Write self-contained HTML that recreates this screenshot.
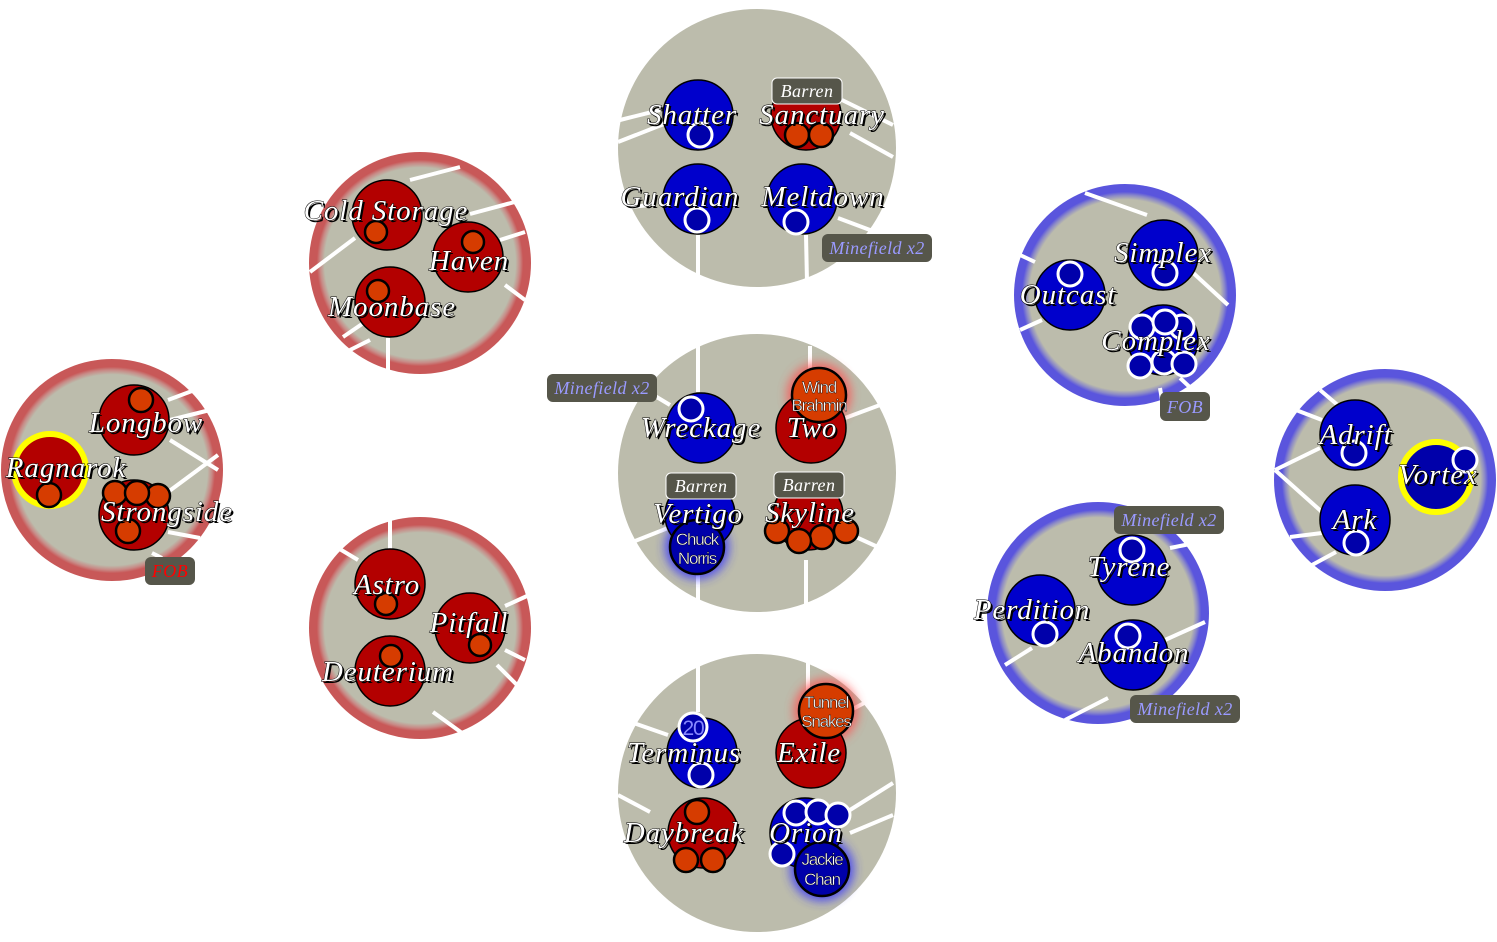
<!DOCTYPE html>
<html><head><meta charset="utf-8"><style>
html,body{margin:0;padding:0;background:#fff;width:1497px;height:942px;overflow:hidden}
svg{display:block}
.lbl{font-family:"Liberation Serif",serif;font-style:italic;font-size:29px;letter-spacing:0.9px;text-anchor:middle;fill:#fff;stroke:#000;stroke-width:1;paint-order:stroke}
.sh{font-family:"Liberation Serif",serif;font-style:italic;font-size:29px;letter-spacing:0.9px;text-anchor:middle;fill:#000}
.tag{font-family:"Liberation Serif",serif;font-style:italic;font-size:18px;letter-spacing:0.4px;text-anchor:middle}
.mn{font-family:"Liberation Sans",sans-serif;font-size:17px;text-anchor:middle;fill:#fff;stroke:#000;stroke-width:0.4;letter-spacing:-1.2px}
.ln{stroke:#fff;stroke-width:4;stroke-linecap:butt}
.rp{fill:#b30000;stroke:#000;stroke-width:1.5}
.bp{fill:#0000cc;stroke:#000;stroke-width:1.5}
.rm{fill:#d63c00;stroke:#000;stroke-width:2.5}
.bm{fill:#0000aa;stroke:#fff;stroke-width:3}
</style></head><body>
<svg width="1497" height="942" viewBox="0 0 1497 942" xmlns="http://www.w3.org/2000/svg">
<defs>
<radialGradient id="rg" cx="50%" cy="50%" r="50%">
<stop offset="0.86" stop-color="#bcbcac"/><stop offset="0.9" stop-color="#c88a86"/><stop offset="0.93" stop-color="#c85858"/><stop offset="1" stop-color="#c85858"/></radialGradient>
<radialGradient id="bg" cx="50%" cy="50%" r="50%">
<stop offset="0.86" stop-color="#bcbcac"/><stop offset="0.9" stop-color="#8a88c8"/><stop offset="0.93" stop-color="#5a55dd"/><stop offset="1" stop-color="#5a55dd"/></radialGradient>
<filter id="gr" x="-50%" y="-50%" width="200%" height="200%"><feGaussianBlur stdDeviation="5"/></filter>
</defs>

<circle cx="757" cy="148" r="139" fill="#bcbcac"/>
<circle cx="757" cy="473" r="139" fill="#bcbcac"/>
<circle cx="757" cy="793" r="139" fill="#bcbcac"/>
<circle cx="420" cy="263" r="111" fill="url(#rg)"/>
<circle cx="420" cy="628" r="111" fill="url(#rg)"/>
<circle cx="112" cy="470" r="111" fill="url(#rg)"/>
<circle cx="1125" cy="295" r="111" fill="url(#bg)"/>
<circle cx="1098" cy="613" r="111" fill="url(#bg)"/>
<circle cx="1385" cy="480" r="111" fill="url(#bg)"/>

<g class="ln">
<line x1="618" y1="142" x2="664" y2="124"/><line x1="620" y1="120" x2="660" y2="110"/>
<line x1="842" y1="100" x2="893" y2="125"/><line x1="850" y1="133" x2="893" y2="157"/>
<line x1="698" y1="235" x2="698" y2="288"/><line x1="806" y1="235" x2="807" y2="282"/>
<line x1="620" y1="208" x2="650" y2="205"/><line x1="838" y1="218" x2="870" y2="230"/>
<line x1="698" y1="346" x2="698" y2="392"/><line x1="810" y1="346" x2="810" y2="392"/>
<line x1="845" y1="418" x2="880" y2="405"/><line x1="845" y1="532" x2="880" y2="548"/>
<line x1="635" y1="541" x2="668" y2="528"/><line x1="698" y1="560" x2="698" y2="603"/>
<line x1="806" y1="560" x2="806" y2="605"/><line x1="655" y1="396" x2="670" y2="405"/>
<line x1="698" y1="660" x2="698" y2="712"/><line x1="808" y1="660" x2="808" y2="700"/>
<line x1="625" y1="720" x2="668" y2="735"/><line x1="618" y1="795" x2="650" y2="812"/>
<line x1="850" y1="810" x2="893" y2="783"/><line x1="850" y1="833" x2="893" y2="815"/>
<line x1="845" y1="713" x2="870" y2="700"/>
<line x1="410" y1="180" x2="460" y2="167"/><line x1="470" y1="214" x2="522" y2="200"/>
<line x1="500" y1="240" x2="525" y2="232"/><line x1="505" y1="285" x2="525" y2="300"/>
<line x1="310" y1="272" x2="355" y2="238"/><line x1="343" y1="337" x2="362" y2="324"/>
<line x1="350" y1="350" x2="370" y2="340"/><line x1="388" y1="338" x2="388" y2="372"/>
<line x1="390" y1="520" x2="390" y2="550"/><line x1="338" y1="548" x2="358" y2="560"/>
<line x1="505" y1="606" x2="527" y2="596"/><line x1="505" y1="650" x2="525" y2="660"/>
<line x1="497" y1="665" x2="522" y2="690"/><line x1="433" y1="712" x2="462" y2="733"/>
<line x1="168" y1="400" x2="200" y2="388"/><line x1="170" y1="420" x2="218" y2="408"/>
<line x1="170" y1="440" x2="218" y2="470"/><line x1="168" y1="492" x2="218" y2="455"/>
<line x1="168" y1="532" x2="200" y2="538"/><line x1="152" y1="553" x2="162" y2="558"/>
<line x1="1085" y1="193" x2="1147" y2="215"/><line x1="1190" y1="270" x2="1228" y2="305"/>
<line x1="1020" y1="255" x2="1035" y2="262"/><line x1="1020" y1="330" x2="1042" y2="320"/>
<line x1="1180" y1="378" x2="1195" y2="392"/><line x1="1160" y1="388" x2="1162" y2="400"/>
<line x1="1170" y1="548" x2="1200" y2="542"/><line x1="1005" y1="665" x2="1032" y2="648"/>
<line x1="1065" y1="720" x2="1108" y2="698"/><line x1="1165" y1="640" x2="1205" y2="622"/>
<line x1="1320" y1="390" x2="1340" y2="407"/><line x1="1296" y1="410" x2="1322" y2="420"/>
<line x1="1275" y1="470" x2="1320" y2="448"/><line x1="1275" y1="470" x2="1322" y2="512"/>
<line x1="1290" y1="537" x2="1322" y2="533"/><line x1="1312" y1="565" x2="1336" y2="552"/>
</g>

<circle cx="819" cy="395" r="32" fill="#ff5050" filter="url(#gr)" opacity="0.8"/>
<circle cx="826" cy="711" r="32" fill="#ff5050" filter="url(#gr)" opacity="0.8"/>
<circle cx="697" cy="547" r="32" fill="#3030ff" filter="url(#gr)" opacity="0.8"/>
<circle cx="822" cy="869" r="32" fill="#3030ff" filter="url(#gr)" opacity="0.8"/>

<circle class="bp" cx="698" cy="115" r="35"/><circle class="bm" cx="700" cy="135" r="12"/>
<circle class="rp" cx="806" cy="115" r="35"/><circle class="rm" cx="797" cy="135" r="12"/><circle class="rm" cx="821" cy="135" r="12"/>
<circle class="bp" cx="698" cy="199" r="35"/><circle class="bm" cx="697" cy="220" r="12"/>
<circle class="bp" cx="802" cy="199" r="35"/><circle class="bm" cx="796" cy="222" r="12"/>

<circle class="bp" cx="701" cy="428" r="35"/><circle class="bm" cx="691" cy="409" r="12"/>
<circle class="rp" cx="811" cy="428" r="35"/><circle class="rm" cx="819" cy="395" r="27"/>
<circle class="bp" cx="700" cy="515" r="35"/><circle cx="697" cy="547" r="27" fill="#0000aa" stroke="#000" stroke-width="2.5"/>
<circle class="rp" cx="808" cy="515" r="35"/>
<circle class="rm" cx="777" cy="531" r="12"/><circle class="rm" cx="846" cy="531" r="12"/><circle class="rm" cx="822" cy="537" r="12"/><circle class="rm" cx="799" cy="541" r="12"/>

<circle class="bp" cx="702" cy="753" r="35"/><circle class="bm" cx="693" cy="727" r="14"/><circle class="bm" cx="701" cy="775" r="12"/>
<circle class="rp" cx="811" cy="753" r="35"/><circle class="rm" cx="826" cy="711" r="27"/>
<circle class="rp" cx="703" cy="833" r="35"/><circle class="rm" cx="697" cy="812" r="12"/><circle class="rm" cx="686" cy="860" r="12"/><circle class="rm" cx="713" cy="860" r="12"/>
<circle class="bp" cx="805" cy="833" r="35"/>
<circle class="bm" cx="796" cy="813" r="12"/><circle class="bm" cx="818" cy="812" r="12"/><circle class="bm" cx="838" cy="815" r="12"/><circle class="bm" cx="782" cy="854" r="12"/>
<circle cx="822" cy="869" r="27" fill="#0000aa" stroke="#000" stroke-width="2.5"/>

<circle class="rp" cx="387" cy="215" r="35"/><circle class="rm" cx="376" cy="232" r="11"/>
<circle class="rp" cx="468" cy="257" r="35"/><circle class="rm" cx="473" cy="242" r="11"/>
<circle class="rp" cx="390" cy="302" r="35"/><circle class="rm" cx="378" cy="291" r="11"/>
<circle class="rp" cx="390" cy="584" r="35"/><circle class="rm" cx="386" cy="604" r="11"/>
<circle class="rp" cx="470" cy="628" r="35"/><circle class="rm" cx="480" cy="645" r="11"/>
<circle class="rp" cx="390" cy="671" r="35"/><circle class="rm" cx="391" cy="656" r="11"/>
<circle class="rp" cx="134" cy="420" r="35"/><circle class="rm" cx="141" cy="400" r="12"/>
<circle cx="50" cy="470" r="36" fill="#b30000" stroke="#ffff00" stroke-width="6"/><circle class="rm" cx="49" cy="495" r="12"/>
<circle class="rp" cx="134" cy="515" r="35"/>
<circle class="rm" cx="115" cy="493" r="12"/><circle class="rm" cx="158" cy="496" r="12"/><circle class="rm" cx="137" cy="493" r="12"/><circle class="rm" cx="128" cy="531" r="12"/>

<circle class="bp" cx="1163" cy="255" r="35"/><circle class="bm" cx="1165" cy="273" r="12"/>
<circle class="bp" cx="1070" cy="295" r="35"/><circle class="bm" cx="1070" cy="274" r="12"/>
<circle class="bp" cx="1163" cy="340" r="35"/>
<circle class="bm" cx="1142" cy="327" r="12"/><circle class="bm" cx="1182" cy="327" r="12"/><circle class="bm" cx="1165" cy="322" r="12"/>
<circle class="bm" cx="1140" cy="366" r="12"/><circle class="bm" cx="1164" cy="362" r="12"/><circle class="bm" cx="1184" cy="364" r="12"/>
<circle class="bp" cx="1132" cy="570" r="35"/><circle class="bm" cx="1132" cy="550" r="12"/>
<circle class="bp" cx="1040" cy="610" r="35"/><circle class="bm" cx="1045" cy="634" r="12"/>
<circle class="bp" cx="1133" cy="655" r="35"/><circle class="bm" cx="1128" cy="636" r="12"/>
<circle class="bp" cx="1355" cy="435" r="35"/><circle class="bm" cx="1354" cy="453" r="12"/>
<circle class="bp" cx="1355" cy="520" r="35"/><circle class="bm" cx="1356" cy="543" r="12"/>
<circle cx="1436" cy="477" r="35" fill="#0000aa" stroke="#ffff00" stroke-width="6"/><circle class="bm" cx="1465" cy="460" r="12"/>

<text class="mn" x="819" y="393">Wind</text><text class="mn" x="819" y="411">Brahmin</text>
<text class="mn" x="697" y="545">Chuck</text><text class="mn" x="697" y="564">Norris</text>
<text class="mn" x="826" y="708">Tunnel</text><text class="mn" x="826" y="727">Snakes</text>
<text class="mn" x="822" y="865">Jackie</text><text class="mn" x="822" y="885">Chan</text>
<text class="mn" x="693" y="735" style="font-size:21px;fill:#8888ff;stroke:none">20</text>

<g>
<rect x="772" y="78" width="70" height="26" rx="5" fill="#56564a" stroke="#fff" stroke-width="1"/><text class="tag" x="807" y="97" fill="#fff">Barren</text>
<rect x="666" y="473" width="70" height="26" rx="5" fill="#56564a" stroke="#fff" stroke-width="1"/><text class="tag" x="701" y="492" fill="#fff">Barren</text>
<rect x="774" y="472" width="70" height="26" rx="5" fill="#56564a" stroke="#fff" stroke-width="1"/><text class="tag" x="809" y="491" fill="#fff">Barren</text>
<rect x="822" y="234" width="110" height="28" rx="6" fill="#56564a"/><text class="tag" x="877" y="254" fill="#9a9aff">Minefield x2</text>
<rect x="547" y="374" width="110" height="28" rx="6" fill="#56564a"/><text class="tag" x="602" y="394" fill="#9a9aff">Minefield x2</text>
<rect x="1114" y="506" width="110" height="28" rx="6" fill="#56564a"/><text class="tag" x="1169" y="526" fill="#9a9aff">Minefield x2</text>
<rect x="1130" y="695" width="110" height="28" rx="6" fill="#56564a"/><text class="tag" x="1185" y="715" fill="#9a9aff">Minefield x2</text>
<rect x="145" y="557" width="50" height="28" rx="6" fill="#56564a"/><text class="tag" x="170" y="577" fill="#ff0000">FOB</text>
<rect x="1160" y="392" width="50" height="29" rx="6" fill="#56564a"/><text class="tag" x="1185" y="413" fill="#9a9aff">FOB</text>
</g>

<g>
<text class="sh" x="694" y="126">Shatter</text><text class="lbl" x="692" y="124">Shatter</text>
<text class="sh" x="824" y="126">Sanctuary</text><text class="lbl" x="822" y="124">Sanctuary</text>
<text class="sh" x="682" y="208">Guardian</text><text class="lbl" x="680" y="206">Guardian</text>
<text class="sh" x="825" y="208">Meltdown</text><text class="lbl" x="823" y="206">Meltdown</text>
<text class="sh" x="703" y="439">Wreckage</text><text class="lbl" x="701" y="437">Wreckage</text>
<text class="sh" x="814" y="439">Two</text><text class="lbl" x="812" y="437">Two</text>
<text class="sh" x="700" y="525">Vertigo</text><text class="lbl" x="698" y="523">Vertigo</text>
<text class="sh" x="812" y="524">Skyline</text><text class="lbl" x="810" y="522">Skyline</text>
<text class="sh" x="686" y="764">Terminus</text><text class="lbl" x="684" y="762">Terminus</text>
<text class="sh" x="811" y="764">Exile</text><text class="lbl" x="809" y="762">Exile</text>
<text class="sh" x="686" y="844">Daybreak</text><text class="lbl" x="684" y="842">Daybreak</text>
<text class="sh" x="808" y="844">Orion</text><text class="lbl" x="806" y="842">Orion</text>
<text class="sh" x="388" y="222">Cold Storage</text><text class="lbl" x="386" y="220">Cold Storage</text>
<text class="sh" x="471" y="272">Haven</text><text class="lbl" x="469" y="270">Haven</text>
<text class="sh" x="394" y="318">Moonbase</text><text class="lbl" x="392" y="316">Moonbase</text>
<text class="sh" x="389" y="596">Astro</text><text class="lbl" x="387" y="594">Astro</text>
<text class="sh" x="471" y="634">Pitfall</text><text class="lbl" x="469" y="632">Pitfall</text>
<text class="sh" x="390" y="683">Deuterium</text><text class="lbl" x="388" y="681">Deuterium</text>
<text class="sh" x="148" y="434">Longbow</text><text class="lbl" x="146" y="432">Longbow</text>
<text class="sh" x="68" y="479">Ragnarok</text><text class="lbl" x="66" y="477">Ragnarok</text>
<text class="sh" x="169" y="523">Strongside</text><text class="lbl" x="167" y="521">Strongside</text>
<text class="sh" x="1165" y="264">Simplex</text><text class="lbl" x="1163" y="262">Simplex</text>
<text class="sh" x="1070" y="306">Outcast</text><text class="lbl" x="1068" y="304">Outcast</text>
<text class="sh" x="1158" y="352">Complex</text><text class="lbl" x="1156" y="350">Complex</text>
<text class="sh" x="1131" y="578">Tyrene</text><text class="lbl" x="1129" y="576">Tyrene</text>
<text class="sh" x="1034" y="621">Perdition</text><text class="lbl" x="1032" y="619">Perdition</text>
<text class="sh" x="1136" y="664">Abandon</text><text class="lbl" x="1134" y="662">Abandon</text>
<text class="sh" x="1358" y="446">Adrift</text><text class="lbl" x="1356" y="444">Adrift</text>
<text class="sh" x="1357" y="531">Ark</text><text class="lbl" x="1355" y="529">Ark</text>
<text class="sh" x="1440" y="486">Vortex</text><text class="lbl" x="1438" y="484">Vortex</text>
</g>
</svg>
</body></html>
